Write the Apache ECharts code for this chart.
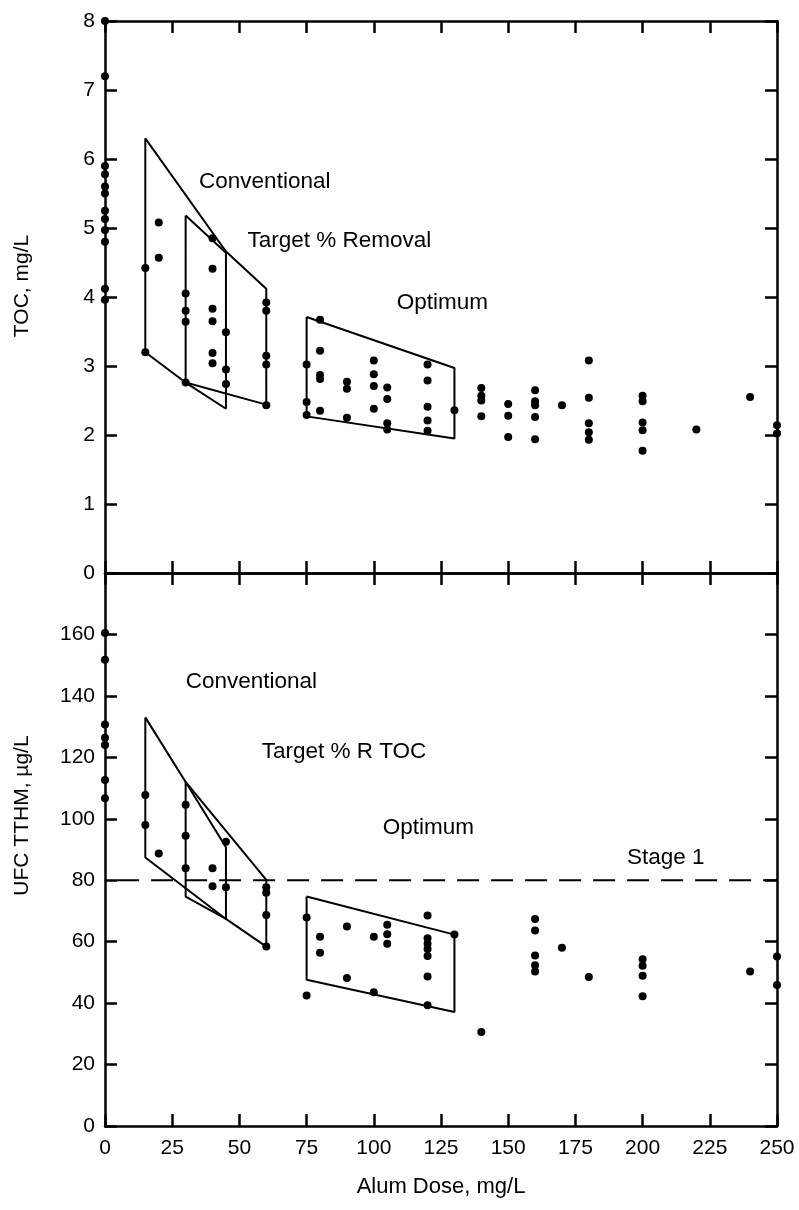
<!DOCTYPE html>
<html>
<head>
<meta charset="utf-8">
<script src="https://cdn.jsdelivr.net/npm/echarts@6/dist/echarts.min.js"></script>
<style>
html,body{margin:0;padding:0;background:#fff;}
#chart{width:799px;height:1210px;}
</style>
</head>
<body>
<div id="chart"></div>
<script>
// ---- Data ----
const xTicks = [0, 25, 50, 75, 100, 125, 150, 175, 200, 225, 250];
const tocTicks = [0, 1, 2, 3, 4, 5, 6, 7, 8];
const tthmTicks = [0, 20, 40, 60, 80, 100, 120, 140, 160];

// TOC (mg/L) observations: [alum dose, TOC]
const tocPoints = [
  [0,8.0],[0,7.2],[0,5.9],[0,5.78],[0,5.6],[0,5.5],[0,5.25],[0,5.13],[0,4.97],[0,4.8],[0,4.12],[0,3.96],
  [15,4.42],[15,3.2],
  [20,5.08],[20,4.57],
  [30,4.05],[30,3.8],[30,3.64],[30,2.76],
  [40,4.85],[40,4.41],[40,3.83],[40,3.65],[40,3.19],[40,3.04],
  [45,3.49],[45,2.95],[45,2.74],
  [60,3.92],[60,3.8],[60,3.15],[60,3.02],[60,2.43],
  [75,3.02],[75,2.48],[75,2.29],
  [80,3.67],[80,3.22],[80,2.87],[80,2.81],[80,2.35],
  [90,2.77],[90,2.67],[90,2.25],
  [100,3.08],[100,2.88],[100,2.71],[100,2.38],
  [105,2.69],[105,2.52],[105,2.17],[105,2.08],
  [120,3.02],[120,2.79],[120,2.41],[120,2.21],[120,2.06],
  [130,2.36],
  [140,2.68],[140,2.57],[140,2.5],[140,2.27],
  [150,2.45],[150,2.28],[150,1.97],
  [160,2.65],[160,2.49],[160,2.43],[160,2.26],[160,1.94],
  [170,2.43],
  [180,3.08],[180,2.54],[180,2.17],[180,2.04],[180,1.93],
  [200,2.57],[200,2.49],[200,2.18],[200,2.07],[200,1.77],
  [220,2.08],
  [240,2.55],
  [250,2.14],[250,2.02]
];

// UFC TTHM (ug/L) observations: [alum dose, TTHM]
const tthmPoints = [
  [0,160.5],[0,151.8],[0,130.7],[0,126.4],[0,124],[0,112.6],[0,106.7],
  [15,107.7],[15,98],
  [20,88.7],
  [30,104.6],[30,94.5],[30,83.9],
  [40,83.9],[40,78],
  [45,92.5],[45,77.7],
  [60,77.7],[60,75.9],[60,68.7],[60,58.4],
  [75,67.9],[75,42.5],
  [80,61.6],[80,56.4],
  [90,64.9],[90,48.2],
  [100,61.6],[100,43.5],
  [105,65.5],[105,62.4],[105,59.3],
  [120,68.5],[120,61.1],[120,59.3],[120,57.6],[120,55.3],[120,48.7],[120,39.3],
  [130,62.3],
  [140,30.6],
  [160,67.4],[160,63.6],[160,55.5],[160,52.3],[160,50.3],
  [170,58],
  [180,48.5],
  [200,54.3],[200,52.2],[200,48.9],[200,42.2],
  [240,50.3],
  [250,55.2],[250,45.9]
];

// Region outlines
const tocConventional = [[15,6.3],[45,4.66],[60,4.12],[60,2.44],[30,2.76],[15,3.2],[15,6.3]];
const tocTarget = [[30,5.18],[45,4.64],[45,2.38],[30,2.76],[30,5.18]];
const tocOptimum = [[75,3.71],[130,2.97],[130,1.95],[75,2.27],[75,3.71]];
const tthmConventional = [[15,133],[30,112],[60,80.1],[60,58.4],[45,67.4],[15,87.4],[15,133]];
const tthmTarget = [[30,112],[45,90.7],[45,67.4],[30,74.7],[30,112]];
const tthmOptimum = [[75,74.7],[130,62.3],[130,37.1],[75,47.6],[75,74.7]];
const stage1Line = [[4.5,80],[250,80]];

// Annotation texts and anchor (data coordinates)
const tocNotes = ['Conventional', 'Target % Removal', 'Optimum'];
const tocNoteAt = [[35,5.67],[53,4.82],[108.5,3.92]];
const tthmNotes = ['Conventional', 'Target % R TOC', 'Optimum', 'Stage 1'];
const tthmNoteAt = [[30,144.5],[58.3,121.8],[103.3,97],[194.2,87.3]];

// ---- Chart ----
const FONT = "'Liberation Sans', Arial, Helvetica, sans-serif";
const FS = 21;
const NOTE_FS = 22.5;
const black = '#000';
const chart = echarts.init(document.getElementById('chart'), null, {renderer: 'canvas'});

function xAxisCfg(gridIndex, position, showLabels) {
  return {
    type: 'value', gridIndex, position, min: 0, max: 250, interval: 25,
    axisLine: {show: true, onZero: false, lineStyle: {color: black, width: 2.5}},
    axisTick: {show: true, inside: true, length: 12, lineStyle: {color: black, width: 2.5}},
    axisLabel: {show: showLabels, color: black, fontFamily: FONT, fontSize: FS, margin: 12},
    splitLine: {show: false}
  };
}
function yAxisCfg(gridIndex, position, max, interval, showLabels, name, shiftUp) {
  return {
    type: 'value', gridIndex, position, min: 0, max, interval,
    axisLine: {show: true, onZero: false, lineStyle: {color: black, width: 2.5}},
    axisTick: {show: true, inside: true, length: 12, lineStyle: {color: black, width: 2.5}},
    axisLabel: {show: showLabels, color: black, fontFamily: FONT, fontSize: FS, margin: 10,
      formatter: v => (v > (max === 8 ? 8 : 160) ? '' : String(v))},
    splitLine: {show: false},
    name: name || '', nameLocation: 'middle', nameRotate: 90, nameGap: 72,
    nameTextStyle: {color: black, fontFamily: FONT, fontSize: FS,
      padding: [0, 0, 0, 2 * (shiftUp || 0)]}
  };
}

function polySeries(data, xi, yi) {
  return {type: 'line', xAxisIndex: xi, yAxisIndex: yi, data, symbol: 'none', silent: true,
    lineStyle: {color: black, width: 2}, clip: false, animation: false, z: 3};
}
function pointSeries(data, xi, yi) {
  return {type: 'scatter', xAxisIndex: xi, yAxisIndex: yi, data, symbol: 'circle', symbolSize: 8,
    itemStyle: {color: black, opacity: 1}, clip: false, animation: false, z: 5};
}
function noteSeries(texts, at, xi, yi) {
  return {type: 'scatter', xAxisIndex: xi, yAxisIndex: yi, symbolSize: 0, silent: true, animation: false,
    itemStyle: {opacity: 1, color: black},
    data: at.map((p, i) => ({value: p, name: texts[i]})),
    label: {show: true, position: 'right', distance: 0, formatter: p => p.name,
      color: black, opacity: 1, fontFamily: FONT, fontSize: NOTE_FS}};
}

const option = {
  backgroundColor: '#fff',
  animation: false,
  grid: [
    {left: 105, width: 672, top: 21, height: 552},
    {left: 105, width: 672, top: 573, height: 553}
  ],
  xAxis: [
    xAxisCfg(0, 'bottom', false),
    xAxisCfg(0, 'top', false),
    Object.assign(xAxisCfg(1, 'bottom', true), {
      name: 'Alum Dose, mg/L', nameLocation: 'middle', nameGap: 50,
      nameTextStyle: {color: black, fontFamily: FONT, fontSize: 22}
    }),
    xAxisCfg(1, 'top', false)
  ],
  yAxis: [
    yAxisCfg(0, 'left', 8, 1, true, 'TOC, mg/L', 11),
    yAxisCfg(0, 'right', 8, 1, false),
    yAxisCfg(1, 'left', 180, 20, true, 'UFC TTHM, µg/L', 34),
    yAxisCfg(1, 'right', 180, 20, false)
  ],
  series: [
    polySeries(tocConventional, 0, 0),
    polySeries(tocTarget, 0, 0),
    polySeries(tocOptimum, 0, 0),
    pointSeries(tocPoints, 0, 0),
    noteSeries(tocNotes, tocNoteAt, 0, 0),
    polySeries(tthmConventional, 2, 2),
    polySeries(tthmTarget, 2, 2),
    polySeries(tthmOptimum, 2, 2),
    Object.assign(polySeries(stage1Line, 2, 2), {lineStyle: {color: black, width: 2, type: [22, 12]}}),
    pointSeries(tthmPoints, 2, 2),
    noteSeries(tthmNotes, tthmNoteAt, 2, 2)
  ]
};
chart.setOption(option);
</script>
</body>
</html>
